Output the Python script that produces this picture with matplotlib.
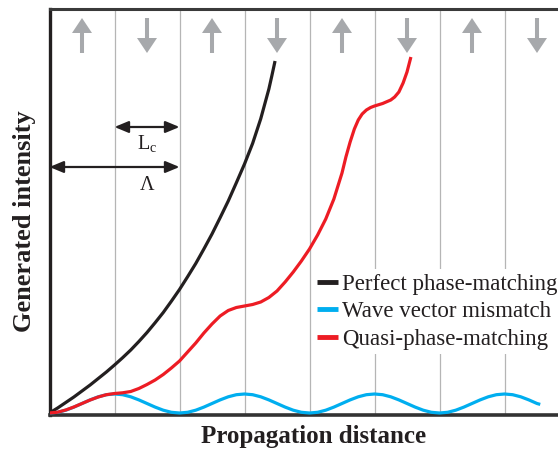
import matplotlib
matplotlib.use("Agg")
import matplotlib.pyplot as plt

# ---- data (x in coherence lengths, intensity in arbitrary units) ----
black_x = [0, 0.125, 0.25, 0.375, 0.5, 0.625, 0.75, 0.875, 1, 1.125, 1.25, 1.375, 1.5, 1.625,
           1.75, 1.875, 2, 2.125, 2.25, 2.375, 2.5, 2.625, 2.75, 2.875, 3, 3.125, 3.25,
           3.375, 3.42, 3.47]
black_y = [0, 5, 10.5, 16, 22, 28, 34.5, 41, 48, 55.3, 63, 71.5, 80.5, 90.3,
           100.5, 111.8, 123.5, 136.3, 149.5, 164, 179, 195.3, 212, 230.3, 249, 269.6, 294.3,
           324, 337, 352]

red_x = [0, 0.125, 0.25, 0.375, 0.5, 0.625, 0.75, 0.875, 1, 1.125, 1.25, 1.375, 1.5, 1.625,
         1.75, 1.875, 2, 2.125, 2.25, 2.375, 2.5, 2.625, 2.75, 2.875, 3, 3.125, 3.25, 3.375,
         3.5, 3.625, 3.75, 3.875, 4, 4.125, 4.25, 4.375, 4.5, 4.56, 4.625, 4.69, 4.75, 4.81,
         4.875, 4.94, 5, 5.125, 5.25, 5.31, 5.375, 5.44, 5.5, 5.56]
red_y = [0, 0.8, 3, 6, 9.5, 13, 16, 18.3, 19.5, 20.2, 21.5, 24.5, 28.5, 33,
         38.5, 45, 52, 61, 70, 80, 89, 97, 102.5, 105.5, 107, 108.5, 111, 115.5,
         122, 131, 141, 152, 164, 178, 194, 214, 240, 256, 271, 284, 293, 299,
         303, 305.5, 307, 309.5, 313, 316, 321, 330, 341, 356]

blue_x = [i * 0.125 for i in range(61)] + [7.55]
blue_y = [0, 0.7, 2.8, 5.9, 9.5, 13.1, 16.2, 18.3, 19, 18.3, 16.2, 13.1, 9.5, 5.9, 2.8, 0.7] * 3 + \
         [0, 0.7, 2.8, 5.9, 9.5, 13.1, 16.2, 18.3, 19, 18.3, 16.2, 13.1, 9.5, 8.6]

domain_centers = [0.5, 1.5, 2.5, 3.5, 4.5, 5.5, 6.5, 7.5]
domain_dirs = ["up", "down", "up", "down", "up", "down", "up", "down"]
boundaries = [1, 2, 3, 4, 5, 6, 7]

labels = ["Perfect phase-matching", "Wave vector mismatch", "Quasi-phase-matching"]
colors = ["#231f20", "#00aeef", "#ed1c24"]

SERIF = ["Liberation Serif", "DejaVu Serif"]
plt.rcParams["font.family"] = SERIF
plt.rcParams["mathtext.fontset"] = "custom"
plt.rcParams["mathtext.rm"] = "Liberation Serif"

W, H = 558, 451
fig = plt.figure(figsize=(W / 100, H / 100), dpi=100)
ax = fig.add_axes([49.5 / W, (H - 415) / H, 1 - 49.5 / W, (415 - 9) / H])
ax.set_xlim(0, (W - 49.5) / 65)
ax.set_ylim(-2, 404)

for b in boundaries:
    ax.axvline(b, color="#b5b5b5", lw=0.9, zorder=0)

kw = dict(lw=2.3, solid_capstyle="butt", solid_joinstyle="round")
ax.plot(blue_x, blue_y, color=colors[1], zorder=3, label=labels[1], **kw)
ax.plot(black_x, black_y, color=colors[0], zorder=4, label=labels[0], **kw)
ax.plot(red_x, red_y, color=colors[2], zorder=5, label=labels[2], **kw)

# domain polarization arrows
gray = "#a7a9ac"
for xc, d in zip(domain_centers, domain_dirs):
    top, bot = 395, 360
    if d == "up":
        start, end = (xc, bot), (xc, top)
    else:
        start, end = (xc, top), (xc, bot)
    ax.annotate("", xy=end, xytext=start,
                arrowprops=dict(arrowstyle="simple,head_length=1.08,head_width=1.44,tail_width=0.29",
                                mutation_scale=10, color=gray, lw=0, shrinkA=0, shrinkB=0))

# Lc and Lambda markers
ap = dict(arrowstyle="<|-|>,head_length=0.6,head_width=0.25", mutation_scale=14,
          color="#231f20", lw=1.6, shrinkA=0, shrinkB=0)
ax.annotate("", xy=(1, 286), xytext=(2, 286), arrowprops=ap)
ax.annotate("", xy=(0, 246), xytext=(2, 246), arrowprops=ap)
ax.text(1.5, 263, r"L$_\mathrm{c}$", ha="center", va="baseline", fontsize=14.5, color="#231f20")
ax.text(1.5, 223, "\u039b", ha="center", va="baseline", fontsize=14.5, color="#231f20")

# spines
ax.spines["right"].set_visible(False)
ax.spines["left"].set_linewidth(2.4)
ax.spines["left"].set_color("#231f20")
ax.spines["bottom"].set_linewidth(2.6)
ax.spines["bottom"].set_color("#333333")
ax.spines["top"].set_linewidth(2.2)
ax.spines["top"].set_color("#3a3a3a")
ax.set_xticks([])
ax.set_yticks([])

xl = ax.set_xlabel("Propagation distance", fontsize=18, fontweight="bold", color="#231f20")
xl.set_va("center")
ax.xaxis.set_label_coords((314 - 49.5) / (W - 49.5), (415 - 437) / 406)
yl = ax.set_ylabel("Generated intensity", fontsize=19, fontweight="bold", color="#231f20")
yl.set_va("center")
ax.yaxis.set_label_coords(-(49.5 - 25) / (W - 49.5), (415 - 221) / 406)

handles, labs = ax.get_legend_handles_labels()
order = [labs.index(l) for l in labels]
leg = ax.legend([handles[i] for i in order], [labs[i] for i in order],
                loc="upper left", bbox_to_anchor=((312 - 49.5) / (W - 49.5), (415 - 269) / 406),
                frameon=True, fontsize=16.5, handlelength=0.95, handletextpad=0.15,
                labelspacing=0.28, borderpad=0.2, borderaxespad=0, fancybox=False)
leg.get_frame().set_facecolor("white")
leg.get_frame().set_edgecolor("none")
leg.get_frame().set_alpha(1)
for lh in leg.get_lines():
    lh.set_linewidth(3.5)
for t in leg.get_texts():
    t.set_color("#231f20")

fig.savefig("out.png", dpi=100)
